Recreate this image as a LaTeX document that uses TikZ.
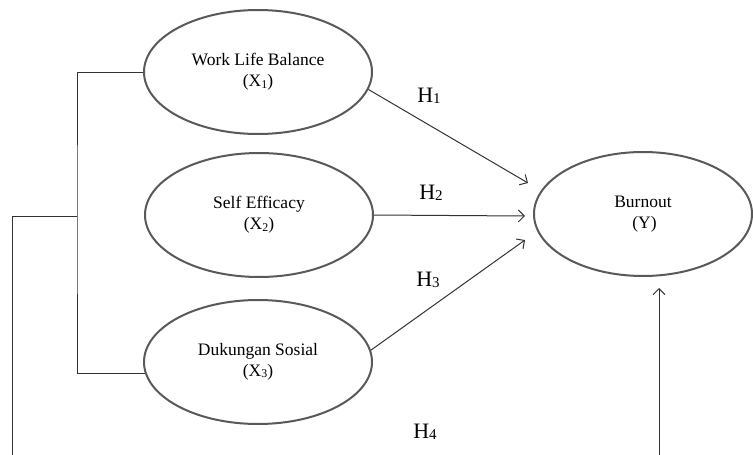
\documentclass[tikz,border=0pt]{standalone}
\usepackage{fontspec}
\setmainfont{Liberation Serif}
\usetikzlibrary{shapes.geometric,arrows.meta,calc}
\newcommand{\low}[1]{\raisebox{-0.15ex}{\fontsize{\the\dimexpr 0.68\fontdimen6\font\relax}{0pt}\selectfont #1}}

\tikzset{
  var/.style={ellipse,draw=black!65,line width=2pt,minimum width=228pt,minimum height=124pt,
    inner sep=0pt,align=center,font=\fontsize{17.5}{21}\selectfont},
  link/.style={draw=black!80,line width=1pt},
  hyp/.style={link,->,>={Straight Barb[length=6pt,width=12pt]}},
  hlabel/.style={font=\fontsize{22}{24}\selectfont}
}

\begin{document}
\begin{tikzpicture}[x=1pt,y=-1pt]
            \useasboundingbox (0,0) rectangle (753,455);
            \node[var] (wlb) at (258,72) {Work Life Balance\\(X\low{1})};
            \node[var] (se) at (259,215) {Self Efficacy\\(X\low{2})};
            \node[var] (ds) at (258,362) {Dukungan Sosial\\(X\low{3})};
            \node[var,minimum width=218pt] (burnout) at (643,214) {Burnout\\\hspace{3pt}(Y)};
            % bracket on the left
            \coordinate (split) at (77,216);
            \coordinate (loopl) at (12,455);
            \coordinate (loopr) at (659,455);
            \draw[link] (wlb.west) -| (split) |- (ds.186);
            \draw[link] (split) -| (loopl);
            % hypothesis arrows
            \coordinate (h1end) at (528,183);
            \coordinate (h2end) at (525,216);
            \coordinate (h3end) at (525,240);
            \draw[hyp] (wlb.-9) -- (h1end);
            \draw[hyp] (se.east) -- (h2end);
            \draw[hyp] (ds.6) -- (h3end);
            \draw[hyp,shorten >=11pt] (loopr) -- (loopr |- burnout.south);
            \node[hlabel] (h1) at (429,96) {H\low{1}};
            \node[hlabel] (h2) at (431,193) {H\low{2}};
            \node[hlabel] (h3) at (428,280) {H\low{3}};
            \node[hlabel] (h4) at (425,432) {H\low{4}};
        \end{tikzpicture}
\end{document}
